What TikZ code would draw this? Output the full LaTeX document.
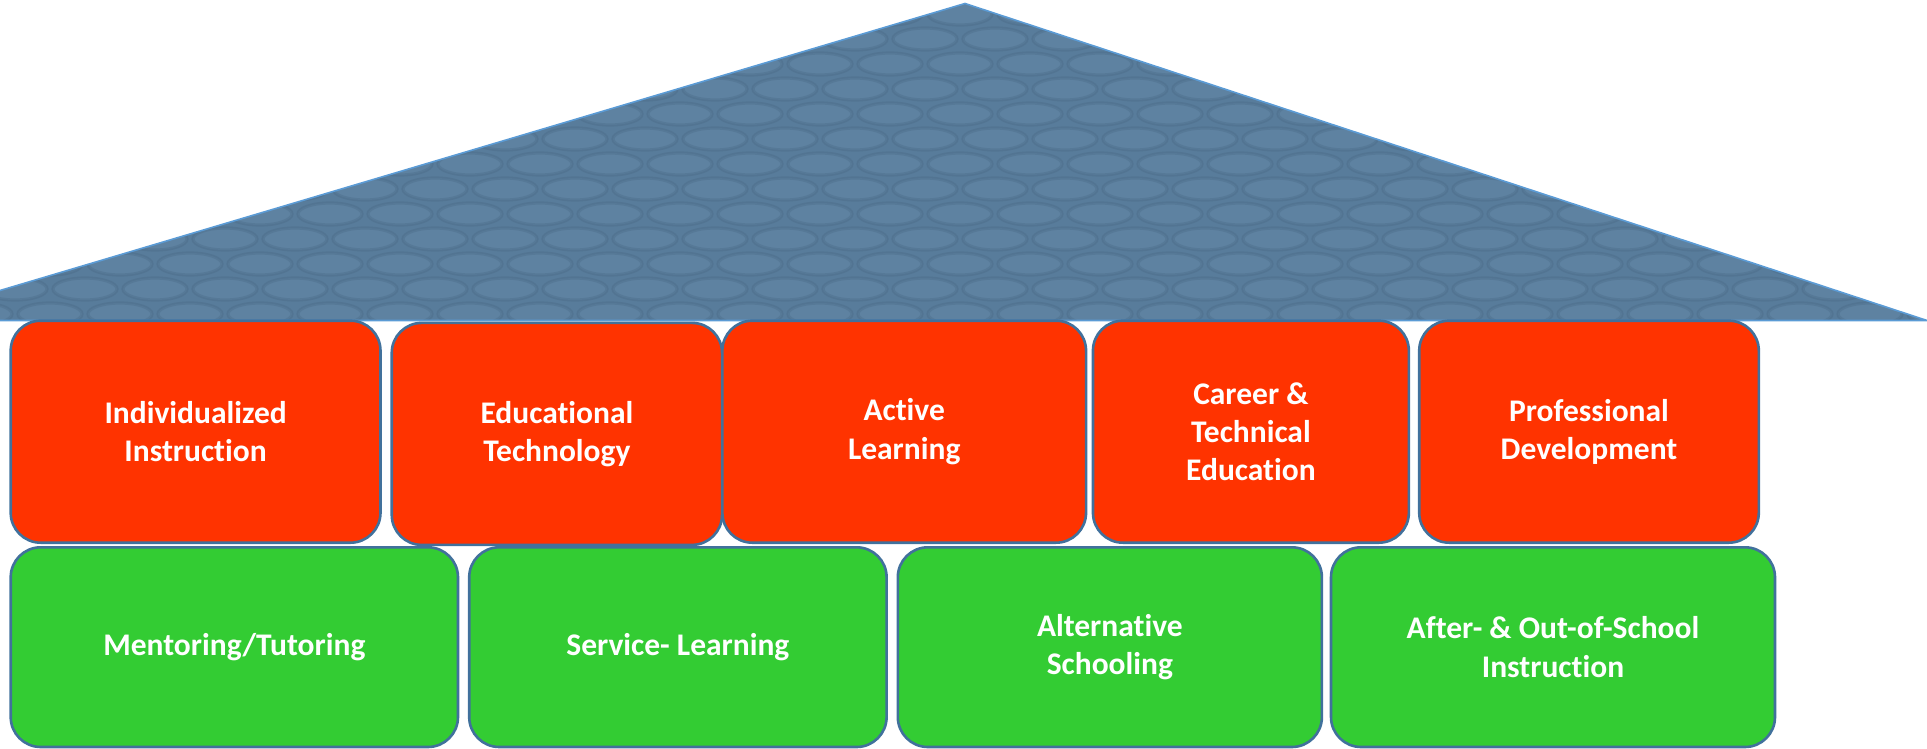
\documentclass[tikz,border=0pt]{standalone}
\usepackage{fontspec}
\setmainfont[Ligatures=NoCommon]{Carlito}
\definecolor{roofbase}{RGB}{88,124,155}
\definecolor{roofhi}{RGB}{108,144,176}
\definecolor{roofdark}{RGB}{62,90,116}
\definecolor{roofedge}{RGB}{91,155,213}
\definecolor{boxline}{RGB}{65,113,156}
\definecolor{boxred}{RGB}{255,51,0}
\definecolor{boxgreen}{RGB}{51,204,51}
\begin{document}
\begin{tikzpicture}[x=0.5pt,y=-0.5pt,
  box/.style={draw=boxline, line width=1.3pt, rounded corners=15pt, text=white,
    font=\bfseries\fontsize{15.75}{19.15}\selectfont, align=center,
    inner sep=0pt, outer sep=0pt},
  redbox/.style={box, fill=boxred, minimum height=111pt},
  greenbox/.style={box, fill=boxgreen, minimum height=99.85pt},
  shingle/.style={fill=roofhi, fill opacity=0.3, draw=roofdark, draw opacity=0.22, line width=1.6pt}]
\useasboundingbox (0,0) rectangle (1927,749);
% roof
\begin{scope}
  \clip (0,290.5) -- (965,3.5) -- (1927,320.5) -- (0,320.5) -- cycle;
  \fill[roofbase] (0,0) rectangle (1927,330);
  \foreach \r in {0,...,12}{
    \pgfmathsetmacro\yy{14+\r*25}
    \pgfmathsetmacro\off{mod(\r,2)*35}
    \foreach \c in {0,...,28}{
      \pgfmathsetmacro\xx{\c*70+\off-20}
      \path[shingle] (\xx,\yy) ellipse [x radius=16pt, y radius=5.5pt];
    }
  }
\end{scope}
\draw[roofedge, line width=0.8pt] (0,290.5) -- (965,3.5) -- (1927,320.5) -- (0,320.5);
% top row
\node[redbox, minimum width=184.9pt]  (r1) at (195.6,431.7) {Individualized\\Instruction};
\node[redbox, minimum width=165.15pt] (r2) at (556.9,433.9) {Educational\\Technology};
\node[redbox, minimum width=181.85pt] (r3) at (904.2,431.7) {Active\\Learning};
\node[redbox, minimum width=157.95pt] (r4) at (1250.9,431.7) {Career \&\\Technical\\Education};
\node[redbox, minimum width=169.8pt]  (r5) at (1589,431.7) {Professional\\Development};
% bottom row
\node[greenbox, minimum width=223.65pt] (g1) at (234.35,647.15) {Mentoring/Tutoring};
\node[greenbox, minimum width=208.7pt]  (g2) at (677.9,647.15) {Service- Learning};
\node[greenbox, minimum width=212.05pt] (g3) at (1109.85,647.15) {Alternative\\Schooling};
\node[greenbox, minimum width=222pt]    (g4) at (1553,647.15) {After- \& Out-of-School\\Instruction};
\end{tikzpicture}
\end{document}
